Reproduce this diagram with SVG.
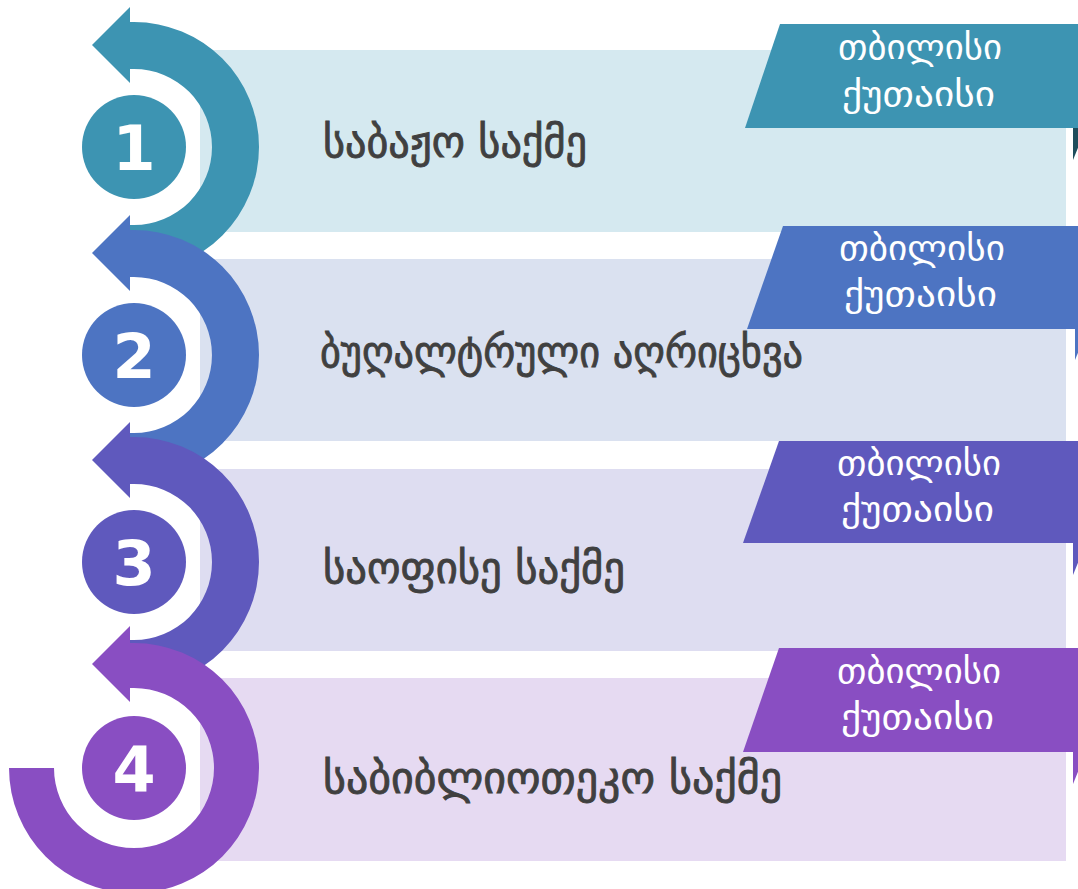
<svg xmlns="http://www.w3.org/2000/svg" width="1078" height="889" viewBox="0 0 1078 889">
<style>
.band{stroke:none}
.num{font-family:"DejaVu Sans",sans-serif;font-weight:bold;font-size:62px;fill:#fff;text-anchor:middle}
.main{font-family:"DejaVu Sans","Noto Sans",sans-serif;font-size:44px;fill:#404040;stroke:#404040;stroke-width:0.9}
.tag{font-family:"DejaVu Sans","Noto Sans",sans-serif;font-size:34px;fill:#fff}
</style>
<rect width="1078" height="889" fill="#fff"/>
<g id="bands">
<rect class="band" x="200" y="50" width="866" height="182" fill="#D5E9F0"/>
<rect class="band" x="200" y="259" width="866" height="182" fill="#DAE1F0"/>
<rect class="band" x="200" y="469" width="866" height="182" fill="#DEDDF1"/>
<rect class="band" x="200" y="678" width="866" height="183" fill="#E6DAF2"/>
</g>
<g id="connectors">
<g fill="#3D94B2">
<path d="M130,22 L134,22 A125,125 0 0 1 134,272 L130,272 L130,225 L134,225 A78,78 0 0 0 134,69 L130,69 Z"/>
<polygon points="130,7 92,45 130,83"/>
</g>
<g fill="#4D74C2">
<path d="M130,230 L134,230 A125,125 0 0 1 134,480 L130,480 L130,433 L134,433 A78,78 0 0 0 134,277 L130,277 Z"/>
<polygon points="130,215 92,253 130,291"/>
</g>
<g fill="#5F59BD">
<path d="M130,437 L134,437 A125,125 0 0 1 134,687 L130,687 L130,640 L134,640 A78,78 0 0 0 134,484 L130,484 Z"/>
<polygon points="130,422 92,460 130,498"/>
</g>
<g fill="#894EC2">
<path d="M130,643 L134,643 A125,125 0 1 1 9,768 L54,768 A80,80 0 1 0 134,688 L130,688 Z"/>
<polygon points="130,626 92,664 130,702"/>
</g>
</g>
<g id="node1">
<circle cx="134" cy="147" r="52" fill="#3D94B2"/>
<text class="num" x="134" y="170">1</text>
<text class="main" x="323" y="157" textLength="264" lengthAdjust="spacingAndGlyphs">საბაჟო საქმე</text>
<polygon points="780,24 1078,24 1078,128 745,128" fill="#3D94B2"/>
<polygon points="1073,128 1086,128 1073,160" fill="#1E4D5C"/>
<text class="tag" x="838" y="59" textLength="164" lengthAdjust="spacingAndGlyphs">თბილისი</text>
<text class="tag" x="842" y="106" textLength="153" lengthAdjust="spacingAndGlyphs">ქუთაისი</text>
</g>
<g id="node2">
<circle cx="134" cy="355" r="52" fill="#4D74C2"/>
<text class="num" x="134" y="378">2</text>
<text class="main" x="320" y="367" textLength="483" lengthAdjust="spacingAndGlyphs">ბუღალტრული აღრიცხვა</text>
<polygon points="783,226 1078,226 1078,329 747,329" fill="#4D74C2"/>
<polygon points="1075,329 1088,329 1075,360" fill="#4D74C2"/>
<text class="tag" x="839" y="260" textLength="166" lengthAdjust="spacingAndGlyphs">თბილისი</text>
<text class="tag" x="844" y="306" textLength="153" lengthAdjust="spacingAndGlyphs">ქუთაისი</text>
</g>
<g id="node3">
<circle cx="134" cy="562" r="52" fill="#5F59BD"/>
<text class="num" x="134" y="585">3</text>
<text class="main" x="323" y="583" textLength="302" lengthAdjust="spacingAndGlyphs">საოფისე საქმე</text>
<polygon points="779,441 1078,441 1078,543 743,543" fill="#5F59BD"/>
<polygon points="1073,543 1086,543 1073,575" fill="#5F59BD"/>
<text class="tag" x="837" y="475" textLength="164" lengthAdjust="spacingAndGlyphs">თბილისი</text>
<text class="tag" x="841" y="521" textLength="153" lengthAdjust="spacingAndGlyphs">ქუთაისი</text>
</g>
<g id="node4">
<circle cx="134" cy="768" r="52" fill="#894EC2"/>
<text class="num" x="134" y="791">4</text>
<text class="main" x="323" y="793" textLength="459" lengthAdjust="spacingAndGlyphs">საბიბლიოთეკო საქმე</text>
<polygon points="779,648 1078,648 1078,752 743,752" fill="#894EC2"/>
<polygon points="1073,752 1086,752 1073,784" fill="#894EC2"/>
<text class="tag" x="837" y="683" textLength="164" lengthAdjust="spacingAndGlyphs">თბილისი</text>
<text class="tag" x="841" y="729" textLength="153" lengthAdjust="spacingAndGlyphs">ქუთაისი</text>
</g>
</svg>
